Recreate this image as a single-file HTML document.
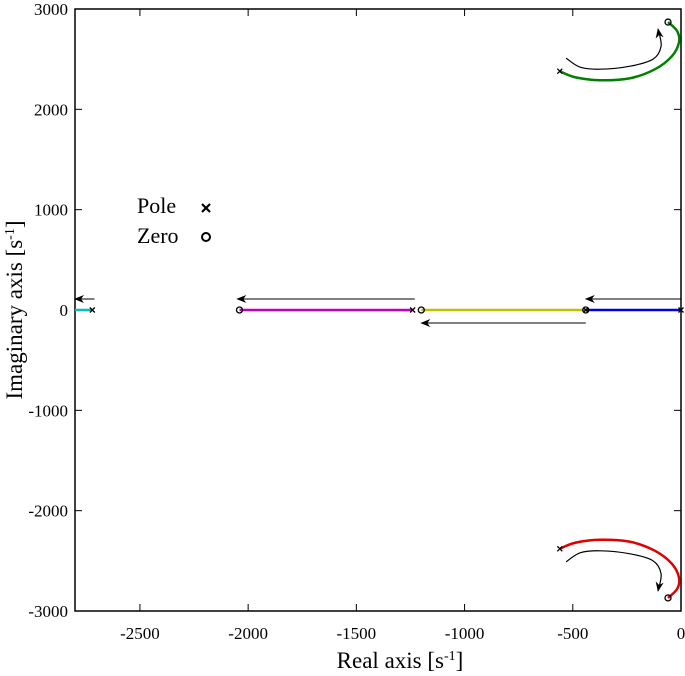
<!DOCTYPE html>
<html><head><meta charset="utf-8"><style>
body{margin:0;background:#fff;}
svg{display:block;font-family:"Liberation Serif",serif;}
</style></head><body>
<svg id="c" width="685" height="676"></svg>
<script>
const xTicks=[-2500,-2000,-1500,-1000,-500,0];
const yTicks=[-3000,-2000,-1000,0,1000,2000,3000];
const cyanLine=[[-2800,0],[-2720,0]];
const magentaLine=[[-2040,0],[-1240,0]];
const yellowLine=[[-1200,0],[-440,0]];
const blueLine=[[-440,0],[0,0]];
const greenLine=[[-560,2380],[-489,2320],[-374,2290],[-235,2310],[-120,2400],[-42,2530],[-9,2670],[-18,2780],[-60,2870]];
const redLine=[[-560,-2380],[-489,-2320],[-374,-2290],[-235,-2310],[-120,-2400],[-42,-2530],[-9,-2670],[-18,-2780],[-60,-2870]];
const poles=[[-2720,0],[-1240,0],[-440,0],[0,0],[-560,2380],[-560,-2380]];
const zeros=[[-2040,0],[-1200,0],[-440,0],[-60,2870],[-60,-2870]];
const straightArrows=[[-2710,110,-2800,110],[-1230,110,-2050,110],[-440,-130,-1200,-130],[0,110,-440,110]];
const curvedArrows=[[[-531,2510],[-466,2420],[-374,2400],[-235,2430],[-129,2500],[-92,2630],[-106,2800]],[[-531,-2510],[-466,-2420],[-374,-2400],[-235,-2430],[-129,-2500],[-92,-2630],[-106,-2800]]];

const L=75,R=681,T=9,B=611,xmin=-2800,xmax=0,ymin=-3000,ymax=3000;
const X=v=>L+(v-xmin)/(xmax-xmin)*(R-L);
const Y=v=>B-(v-ymin)/(ymax-ymin)*(B-T);
const svg=document.getElementById('c');
const NS='http://www.w3.org/2000/svg';
function mk(t,a,p){const e=document.createElementNS(NS,t);for(const k in a)e.setAttribute(k,a[k]);(p||svg).appendChild(e);return e;}
const defs=mk('defs',{});
const m=mk('marker',{id:'ah',markerWidth:10,markerHeight:8,refX:9,refY:4,orient:'auto',markerUnits:'userSpaceOnUse'},defs);
mk('path',{d:'M0,0 L10,4 L0,8 L3,4 Z',fill:'#000'},m);
function smooth(pts){
  const p=pts.map(q=>[X(q[0]),Y(q[1])]);
  let d='M'+p[0][0]+','+p[0][1];
  for(let i=0;i<p.length-1;i++){
    const p0=p[Math.max(0,i-1)],p1=p[i],p2=p[i+1],p3=p[Math.min(p.length-1,i+2)];
    const c1=[p1[0]+(p2[0]-p0[0])/6,p1[1]+(p2[1]-p0[1])/6];
    const c2=[p2[0]-(p3[0]-p1[0])/6,p2[1]-(p3[1]-p1[1])/6];
    d+=' C'+c1[0]+','+c1[1]+' '+c2[0]+','+c2[1]+' '+p2[0]+','+p2[1];
  }
  return d;
}

const frame=mk('rect',{x:L,y:T,width:R-L,height:B-T,fill:'none',stroke:'#000','stroke-width':1.5});


xTicks.forEach(v=>{
  const t=mk('line',{x1:X(v),x2:X(v),y1:B,y2:B-7,stroke:'#000'});
  
  
  mk('line',{x1:X(v),x2:X(v),y1:T,y2:T+7,stroke:'#000'});
  const l=mk('text',{x:X(v),y:B+28,'text-anchor':'middle','font-size':17});
  l.textContent=v;
  
  
});
yTicks.forEach(v=>{
  const t=mk('line',{x1:L,x2:L+7,y1:Y(v),y2:Y(v),stroke:'#000'});
  
  
  mk('line',{x1:R,x2:R-7,y1:Y(v),y2:Y(v),stroke:'#000'});
  const l=mk('text',{x:L-7,y:Y(v)+6,'text-anchor':'end','font-size':17});
  l.textContent=v;
  
  
});
function line(pts,color,name){
  const p=mk('path',{d:smooth(pts),fill:'none',stroke:color,'stroke-width':2.5,'stroke-linejoin':'round'});
  
  
}
line(cyanLine,'#00c0c0','cyan-locus');
line(magentaLine,'#c000c0','magenta-locus');
line(yellowLine,'#c0c000','yellow-locus');
line(blueLine,'#0000e0','blue-locus');
line(greenLine,'#008000','green-locus');
line(redLine,'#e00000','red-locus');
straightArrows.forEach(a=>{
  const e=mk('line',{x1:X(a[0]),y1:Y(a[1]),x2:X(a[2]),y2:Y(a[3]),stroke:'#000','stroke-width':1,'marker-end':'url(#ah)'});
  
  
});
curvedArrows.forEach(c=>{
  const e=mk('path',{d:smooth(c),fill:'none',stroke:'#000','stroke-width':1.2,'marker-end':'url(#ah)'});
  
  
});
function cross(x,y,s){const g=mk('g',{stroke:'#000','stroke-width':1.3});mk('line',{x1:x-s,y1:y-s,x2:x+s,y2:y+s},g);mk('line',{x1:x-s,y1:y+s,x2:x+s,y2:y-s},g);return g;}
poles.forEach(p=>{const g=cross(X(p[0]),Y(p[1]),2.5);
  
  });
zeros.forEach(p=>{const c=mk('circle',{cx:X(p[0]),cy:Y(p[1]),r:3,fill:'none',stroke:'#000','stroke-width':1.3});
  
  });
const lp=mk('text',{x:137,y:213,'font-size':22});lp.textContent='Pole';


const gx=cross(206,208,4);gx.setAttribute('stroke-width',2.2);
const lz=mk('text',{x:137,y:243,'font-size':22});lz.textContent='Zero';


mk('circle',{cx:206,cy:237,r:4,fill:'none',stroke:'#000','stroke-width':2});
const xl=mk('text',{x:400,y:668,'text-anchor':'middle','font-size':23});
xl.innerHTML='Real axis [s<tspan dy="-8" font-size="14">-1</tspan><tspan dy="8">]</tspan>';


const yl=mk('text',{x:0,y:0,'text-anchor':'middle','font-size':23,transform:'translate(22,310) rotate(-90)'});
yl.innerHTML='Imaginary axis [s<tspan dy="-8" font-size="14">-1</tspan><tspan dy="8">]</tspan>';


</script>
</body></html>
